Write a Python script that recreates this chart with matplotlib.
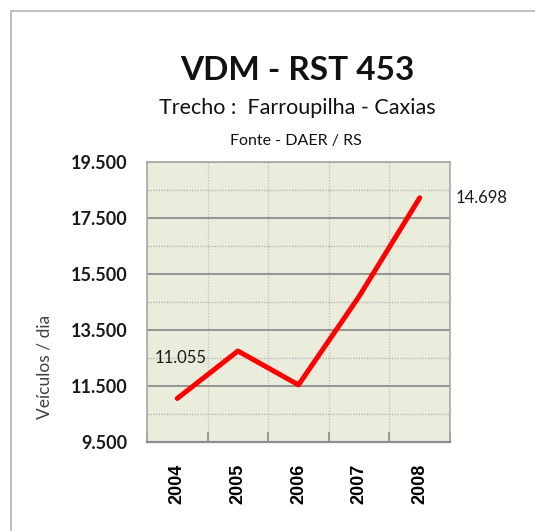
import numpy as np
import matplotlib
matplotlib.use("Agg")
from matplotlib import pyplot as plt
from matplotlib.patches import Rectangle
from matplotlib.ticker import FixedLocator, FuncFormatter

# data
years = ["2004", "2005", "2006", "2007", "2008"]
vdm = [11055, 12750, 11540, 14698, 18220]
labels = ["11.055", "14.698"]

y_ticks = [9500, 11500, 13500, 15500, 17500, 19500]
y_minor = [10500, 12500, 14500, 16500, 18500]

plt.rcParams['font.family'] = ['Lato', 'DejaVu Sans']

fig = plt.figure(figsize=(5.35, 5.31), dpi=100)
W, H = 535.0, 531.0

# outer chart frame (runs off the right and bottom edges)
fig.patches.append(Rectangle((11 / W, -0.1), 1.2, (H - 11) / H + 0.1,
                             transform=fig.transFigure, fill=False,
                             edgecolor="#b4b4b4", linewidth=1.2))

ax = fig.add_axes([147 / W, 1 - 442 / H, (450 - 147) / W, (442 - 162) / H])
ax.set_facecolor("#eaeddc")

x = np.arange(len(years))
ax.plot(x, vdm, color="#ff0000", linewidth=3.6, solid_capstyle="round",
        solid_joinstyle="round", zorder=3)

ax.set_xlim(-0.5, len(years) - 0.5)
ax.set_ylim(y_ticks[0], y_ticks[-1])

ax.set_yticks(y_ticks)
ax.yaxis.set_minor_locator(FixedLocator(y_minor))
ax.yaxis.set_major_formatter(FuncFormatter(lambda v, p: "{:,.0f}".format(v).replace(",", ".")))
ax.tick_params(axis="y", which="both", length=0, pad=14, labelsize=13,
               labelcolor="#1a1a1a")
for t in ax.get_yticklabels():
    t.set_fontweight("bold")

ax.set_xticks(x)
ax.set_xticklabels(years, rotation=90, fontsize=13, fontweight="bold",
                   family="Liberation Sans")
ax.xaxis.set_minor_locator(FixedLocator(np.arange(len(years) + 1) - 0.5))
ax.tick_params(axis="x", which="major", length=0, pad=16)
ax.tick_params(axis="x", which="minor", direction="in", length=7,
               color="#8c8c8c", width=1.2)

ax.grid(axis="y", which="major", color="#8c8c8c", linewidth=1.3, linestyle="-")
ax.grid(axis="y", which="minor", color="#b4b4b4", linewidth=1.0, linestyle=(0, (1, 1)))
ax.grid(axis="x", which="minor", color="#c4c4c4", linewidth=1.0, linestyle=(0, (1, 1)))
ax.set_axisbelow(True)

for s in ax.spines.values():
    s.set_color("#a8a8a8")
    s.set_linewidth(1.2)
ax.spines["bottom"].set_color("#8c8c8c")
ax.spines["bottom"].set_linewidth(1.6)

ax.set_ylabel("Veículos / dia", fontsize=12.5, color="#404040", va="center")
ax.yaxis.set_label_coords((45 - 147) / 303, (442 - 367) / 280)

# data labels
ax.annotate(labels[0], (x[0], vdm[0]), xytext=(-16, 29), textcoords="offset points",
            fontsize=12, color="#1a1a1a", va="center")
ax.annotate(labels[1], (x[-1], vdm[-1]), xytext=(26, 0), textcoords="offset points",
            fontsize=12, color="#1a1a1a", va="center", annotation_clip=False)

# titles
fig.text(297 / W, 1 - 70 / H, "VDM - RST 453", ha="center", va="center",
         fontsize=24, fontweight="bold", color="#111111")
fig.text(297 / W, 1 - 108 / H, "Trecho :  Farroupilha - Caxias", ha="center",
         va="center", fontsize=15.5, color="#111111")
fig.text(296 / W, 1 - 141 / H, "Fonte - DAER / RS", ha="center", va="center",
         fontsize=11.5, color="#111111")

fig.savefig("out.png", dpi=100)
